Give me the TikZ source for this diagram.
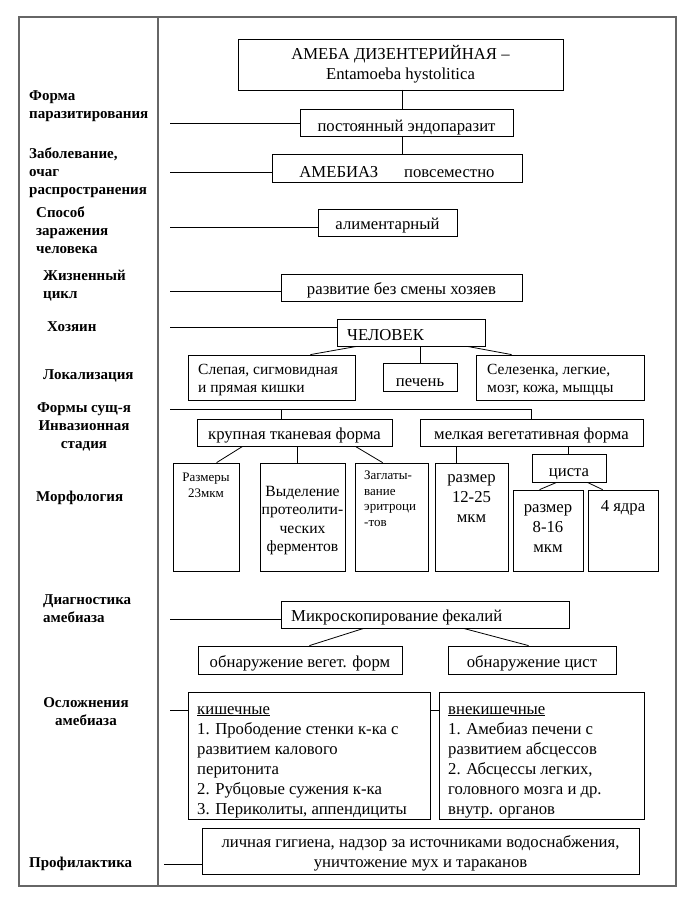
\documentclass[tikz,border=0pt]{standalone}
\usepackage{fontspec}
\setmainfont{Liberation Serif}
\newcommand\fmain{\fontsize{16.7}{20}\selectfont}
\newcommand\floc{\fontsize{15.5}{18}\selectfont}
\newcommand\flab{\fontsize{15}{18}\selectfont\bfseries}
\newcommand\fsmall{\fontsize{13}{15.5}\selectfont}
\tikzset{
  bx/.style={draw, line width=0.8pt, inner sep=0pt, align=center, font=\fmain},
  lab/.style={inner sep=0pt, font=\flab, align=left},
  con/.style={line width=0.8pt},
  txt/.style={inner sep=0pt, font=\fmain, align=left},
}
% name, x1, y1, x2, y2, strut height, text
\newcommand\bxx[7]{\node[bx,minimum width={(#4-#2)*1pt},minimum height={(#5-#3)*1pt}] (#1) at ({(#2+#4)/2},{(#3+#5)/2}) {\rule{0pt}{#6}#7};}
\begin{document}
\begin{tikzpicture}[x=1pt,y=-1pt]
\useasboundingbox (0,0) rectangle (697,912);
% frame
\draw[gray!80!black, line width=1.4pt] (19,17) rectangle (676,886);
\draw[gray!80!black, line width=1.4pt] (158,17) -- (158,886);

% left labels
\node[lab, anchor=west] (L1) at (29,106) {Форма\\паразитирования};
\node[lab, anchor=west] (L2) at (29,173) {Заболевание,\\очаг\\распространения};
\node[lab, anchor=west] (L3) at (36,230) {Способ\\заражения\\человека};
\node[lab, anchor=west] (L4) at (43,286) {Жизненный\\цикл};
\node[lab, anchor=west] (L5) at (47,327) {Хозяин};
\node[lab, anchor=west] (L6) at (43,376) {Локализация};
\node[lab, align=center] (L7) at (84,427) {Формы сущ-я\\Инвазионная\\стадия};
\node[lab, anchor=west] (L8) at (36,498) {Морфология};
\node[lab, anchor=west] (L9) at (43,609) {Диагностика\\амебиаза};
\node[lab, align=center] (L10) at (86,712) {Осложнения\\амебиаза};
\node[lab, anchor=west] (L11) at (29,864) {Профилактика};

% boxes
\bxx{title}{238}{39}{563}{90}{4pt}{АМЕБА ДИЗЕНТЕРИЙНАЯ –\\Entamoeba hystolitica}
\bxx{endo}{300}{109}{513}{136}{22pt}{постоянный эндопаразит}
\bxx{ameb}{272}{154}{522}{182}{20pt}{АМЕБИАЗ\hspace{1.55em}повсеместно}
\bxx{alim}{318}{209}{457}{236}{18pt}{алиментарный}
\bxx{razv}{281}{274}{522}{301}{18pt}{развитие без смены хозяев}
\bxx{chel}{337}{319}{485}{346}{0pt}{}
\node[txt, anchor=west] (chelt) at (347,335) {ЧЕЛОВЕК};
\bxx{loc1}{188}{355}{355}{400}{0pt}{}
\node[inner sep=0pt, font=\floc, align=left, anchor=west] (loc1t) at (198,380) {Слепая, сигмовидная\\и прямая кишки};
\bxx{loc2}{383}{363}{457}{391}{20pt}{печень}
\bxx{loc3}{476}{355}{644}{400}{0pt}{}
\node[inner sep=0pt, font=\floc, align=left, anchor=west] (loc3t) at (487,380) {Селезенка, легкие,\\мозг, кожа, мыщцы};
\bxx{krup}{197}{419}{392}{446}{18pt}{крупная тканевая форма}
\bxx{melk}{420}{419}{643}{446}{18pt}{мелкая вегетативная форма}
\bxx{m1}{173}{463}{239}{571}{0pt}{}
\node[inner sep=0pt, font=\fsmall, align=center, anchor=north] (m1t) at (206,473) {Размеры\\23мкм};
\bxx{m2}{260}{463}{345}{571}{0pt}{}
\node[inner sep=0pt, font=\fontsize{15.6}{18.3}\selectfont, align=center, anchor=north] (m2t) at (302.5,486) {Выделение\\протеолити-\\ческих\\ферментов};
\bxx{m3}{355}{463}{428}{571}{0pt}{}
\node[inner sep=0pt, font=\fsmall, align=left, anchor=north west] (m3t) at (364,471) {Заглаты-\\вание\\эритроци\\-тов};
\bxx{m4}{435}{463}{508}{571}{0pt}{}
\node[txt, align=center, anchor=north] (m4t) at (471.5,474) {размер\\12-25\\мкм};
\bxx{cyst}{532}{454}{606}{482}{20pt}{циста}
\bxx{m5}{513}{490}{583}{571}{0pt}{}
\node[txt, align=center, anchor=north] (m5t) at (548,504) {размер\\8-16\\мкм};
\bxx{m6}{588}{490}{658}{571}{0pt}{}
\node[txt, anchor=north] (m6t) at (623,500) {4 ядра};
\bxx{micro}{281}{601}{569}{628}{0pt}{}
\node[txt, anchor=west] (microt) at (291,617) {Микроскопирование фекалий};
\bxx{veg}{198}{646}{402}{674}{19pt}{обнаружение вегет. форм}
\bxx{cys2}{448}{646}{616}{674}{19pt}{обнаружение цист}
\bxx{kish}{188}{692}{430}{819}{0pt}{}
\node[txt, anchor=north west] (kisht) at (197,706) {\underline{кишечные}\\1. Прободение стенки к-ка с\\развитием калового\\перитонита\\2. Рубцовые сужения к-ка\\3. Периколиты, аппендициты};
\bxx{vnek}{439}{692}{644}{819}{0pt}{}
\node[txt, anchor=north west] (vnekt) at (448,706) {\underline{внекишечные}\\1. Амебиаз печени с\\развитием абсцессов\\2. Абсцессы легких,\\головного мозга и др.\\внутр. органов};
\bxx{prof}{202}{828}{639}{874}{16pt}{личная гигиена, надзор за источниками водоснабжения,\\уничтожение мух и тараканов}

% label connectors
\coordinate (c1) at (170,123);
\coordinate (c2) at (170,172);
\coordinate (c3) at (170,227);
\coordinate (c4) at (170,291);
\coordinate (c5) at (170,327);
\coordinate (c7) at (170,409);
\coordinate (c7a) at (281,409);
\coordinate (c7b) at (531,409);
\coordinate (c9) at (170,619);
\coordinate (c10) at (170,710);
\coordinate (c11) at (164,864);
\draw[con] (c1) -- (c1 -| endo.west);
\draw[con] (c2) -- (c2 -| ameb.west);
\draw[con] (c3) -- (c3 -| alim.west);
\draw[con] (c4) -- (c4 -| razv.west);
\draw[con] (c5) -- (c5 -| chel.west);
\draw[con] (c7) -- (c7b);
\draw[con] (c7a) -- (c7a |- krup.north);
\draw[con] (c7b) -- (c7b |- melk.north);
\draw[con] (c9) -- (c9 -| micro.west);
\draw[con] (c10) -- (c10 -| kish.west);
\draw[con] (kish.east |- c10) -- (vnek.west |- c10);
\draw[con] (c11) -- (c11 -| prof.west);

% tree connectors
\coordinate (v1) at (402,90);
\draw[con] (v1) -- (v1 |- endo.north);
\draw[con] (v1 |- endo.south) -- (v1 |- ameb.north);
\draw[con] ([xshift=20pt]chel.south west) -- ([xshift=-45pt]loc1.north east);
\coordinate (v2) at (420,346);
\draw[con] (v2) -- (v2 |- loc2.north);
\draw[con] ([xshift=-18pt]chel.south east) -- ([xshift=36pt]loc3.north west);
\draw[con] ([xshift=46pt]krup.south west) -- ([xshift=44pt]m1.north west);
\coordinate (v3) at (297,446);
\draw[con] (v3) -- (v3 |- m2.north);
\draw[con] ([xshift=-37pt]krup.south east) -- ([xshift=28pt]m3.north west);
\coordinate (v4) at (456,446);
\draw[con] (v4) -- (v4 |- m4.north);
\coordinate (v5) at (568,446);
\draw[con] (v5) -- (v5 |- cyst.north);
\draw[con] ([xshift=25pt]cyst.south west) -- ([xshift=27pt]m5.north west);
\draw[con] ([xshift=-19pt]cyst.south east) -- ([xshift=15pt]m6.north west);
\draw[con] ([xshift=83pt]micro.south west) -- ([xshift=-93pt]veg.north east);
\draw[con] ([xshift=183pt]micro.south west) -- ([xshift=81pt]cys2.north west);
\end{tikzpicture}
\end{document}
